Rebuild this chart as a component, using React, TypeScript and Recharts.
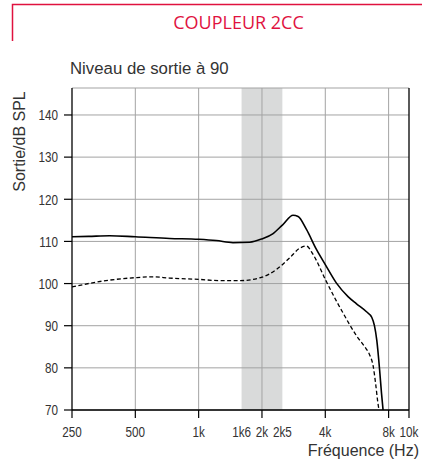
import React from "react";
import { LineChart, Line, XAxis, YAxis, CartesianGrid, ReferenceArea, ReferenceLine } from "recharts";

const solidFreq = [250, 300, 377, 500, 728, 1000, 1213, 1455, 1748, 2000, 2250, 2515, 2810, 2970, 3250, 3630, 4000, 4520, 5130, 5630, 6280, 6650, 6850, 7030, 7250, 7400, 7530];
const solidLevel = [111.1, 111.2, 111.35, 111.1, 110.7, 110.5, 110.2, 109.7, 109.8, 110.6, 111.8, 114.0, 116.2, 115.9, 112.9, 108.1, 104.5, 100.1, 96.9, 95.2, 93.3, 92.0, 90.0, 86.5, 79.5, 74, 70];

const dashFreq = [250, 351, 500, 607, 728, 1000, 1261, 1568, 2000, 2335, 2710, 3025, 3250, 3500, 4000, 4500, 4860, 5230, 5630, 6160, 6510, 6750, 6950, 7100, 7200];
const dashLevel = [99.2, 100.6, 101.4, 101.6, 101.3, 101.0, 100.7, 100.7, 101.5, 103.3, 106.1, 108.4, 108.9, 106.9, 101.0, 96.0, 93.0, 90.2, 87.6, 85.0, 83.0, 80.5, 76, 72, 70];

const xTicks = [250, 500, 1000, 1600, 2000, 2500, 4000, 8000, 10000];
const xTickLabels = ["250", "500", "1k", "1k6", "2k", "2k5", "4k", "8k", "10k"];
const xMajor = [250, 500, 1000, 2000, 4000, 8000, 10000];
const xGrid = [500, 1000, 2000, 4000, 8000];
const yTicks = [70, 80, 90, 100, 110, 120, 130, 140];
const band = [1600, 2500];

const title = "COUPLEUR 2CC";
const subtitle = "Niveau de sortie à 90";
const yLabel = "Sortie/dB SPL";
const xLabel = "Fréquence (Hz)";

const solidData = solidFreq.map((f, i) => ({ f, v: solidLevel[i] }));
const dashData = dashFreq.map((f, i) => ({ f, v: dashLevel[i] }));

const RED = "#e0123f";
const TXT = "#333";
const GRID = "#a3a3a3";
const FONT = "'Liberation Sans', Arial, sans-serif";
const X_TICK_SIZE = 8;
const X_TICK_MARGIN = 8;
const NARROW = 0.78;

const XTick = (props: any) => {
  const { x, y, payload } = props;
  const v = payload.value;
  const idx = xTicks.indexOf(v);
  const axisY = y - X_TICK_SIZE - X_TICK_MARGIN;
  return (
    <g>
      {xMajor.includes(v) && (
        <line x1={x} x2={x} y1={axisY} y2={axisY + X_TICK_SIZE} stroke="#000" strokeWidth={1.2} />
      )}
      <g transform={`translate(${x},${y}) scale(${NARROW},1)`}>
        <text x={0} y={0} dy="0.71em" textAnchor="middle" fill={TXT} fontSize={15} fontFamily={FONT}>
          {idx >= 0 ? xTickLabels[idx] : String(v)}
        </text>
      </g>
    </g>
  );
};

const YTick = (props: any) => {
  const { x, y, payload } = props;
  return (
    <g transform={`translate(${x},${y}) scale(${NARROW},1)`}>
      <text x={0} y={0} dy="0.355em" textAnchor="end" fill={TXT} fontSize={15} fontFamily={FONT}>
        {String(payload.value)}
      </text>
    </g>
  );
};

export default function App() {
  return (
    <div style={{ position: "absolute", left: 0, top: 0, width: 422, height: 465, background: "#fff" }}>
      <LineChart width={422} height={465} data={solidData} margin={{ top: 88, right: 13, bottom: 25, left: 12 }}>
        <CartesianGrid vertical={false} stroke={GRID} strokeWidth={1} />
        {xGrid.map((g) => (
          <ReferenceLine key={g} x={g} stroke={GRID} strokeWidth={1} />
        ))}
        <ReferenceArea x1={band[0]} x2={band[1]} fill="#a0a3a3" fillOpacity={0.4} stroke="none" ifOverflow="hidden" />
        <ReferenceLine x={10000} stroke="#000" strokeWidth={1.3} />
        <XAxis
          dataKey="f"
          type="number"
          scale="log"
          domain={[250, 10000]}
          ticks={xTicks}
          interval={0}
          allowDataOverflow
          height={30}
          tickLine={false}
          tickSize={X_TICK_SIZE}
          tickMargin={X_TICK_MARGIN}
          tick={<XTick />}
          axisLine={{ stroke: "#000", strokeWidth: 1.3 }}
        />
        <YAxis
          type="number"
          domain={[70, 146.4]}
          ticks={yTicks}
          interval={0}
          allowDataOverflow
          width={60}
          tickSize={8}
          tickMargin={6}
          tickLine={{ stroke: "#000", strokeWidth: 1.2 }}
          axisLine={{ stroke: "#000", strokeWidth: 1.3 }}
          tick={<YTick />}
        />
        <Line data={dashData} dataKey="v" type="monotone" stroke="#000" strokeWidth={1.3} strokeDasharray="4 2.5" dot={false} isAnimationActive={false} />
        <Line data={solidData} dataKey="v" type="monotone" stroke="#000" strokeWidth={1.6} dot={false} isAnimationActive={false} />
      </LineChart>
      <svg width={422} height={465} style={{ position: "absolute", left: 0, top: 0, pointerEvents: "none" }}>
        <polyline points="12.5,41 12.5,4.5 422,4.5" fill="none" stroke={RED} strokeWidth={1.5} />
        <text x={238.5} y={29} textAnchor="middle" fill={RED} fontSize={18} fontWeight={500} fontFamily="'Open Sans', sans-serif">{title}</text>
        <text x={70} y={74} fill={TXT} fontSize={16.8} fontFamily={FONT}>{subtitle}</text>
        <text x={25} y={141.5} transform="rotate(-90 25 141.5)" textAnchor="middle" fill={TXT} fontSize={16} fontFamily={FONT}>{yLabel}</text>
        <text x={419} y={456} textAnchor="end" fill={TXT} fontSize={16} fontFamily={FONT}>{xLabel}</text>
      </svg>
    </div>
  );
}
